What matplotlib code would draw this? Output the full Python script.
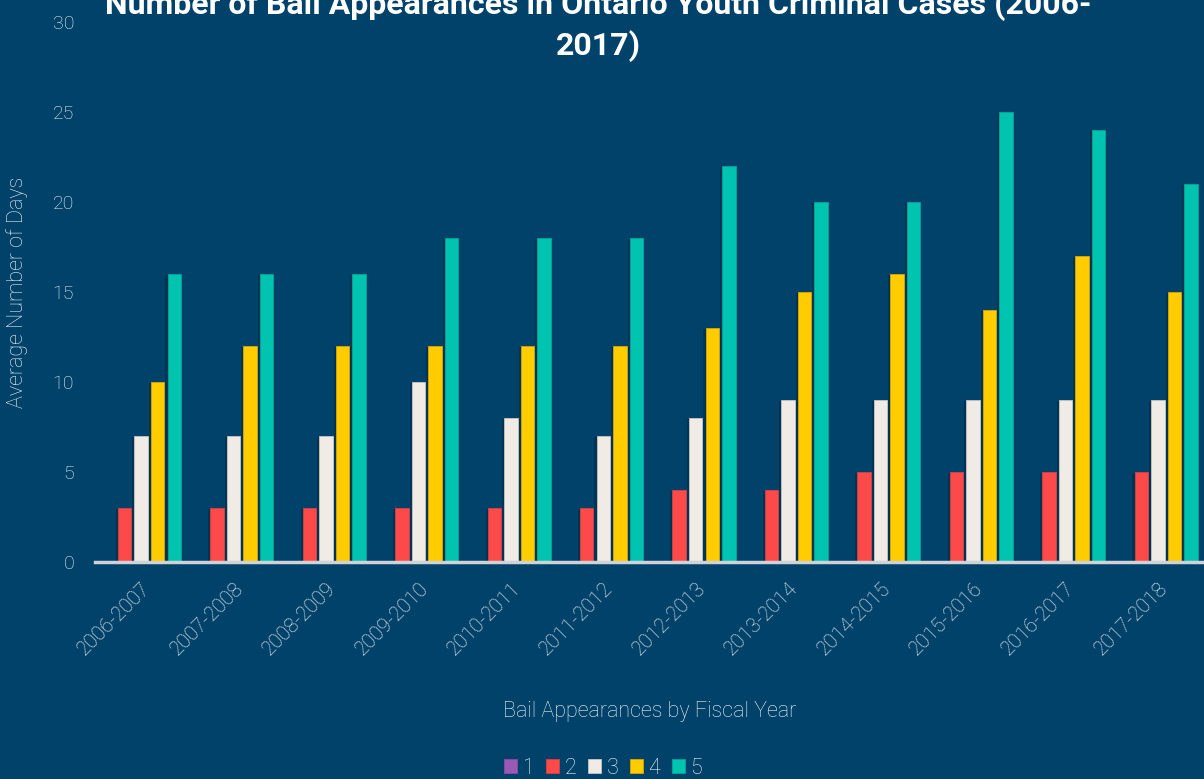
import numpy as np
import matplotlib
matplotlib.use("Agg")
import matplotlib.pyplot as plt
import matplotlib.patheffects as pe

years = ["2006-2007", "2007-2008", "2008-2009", "2009-2010", "2010-2011", "2011-2012",
         "2012-2013", "2013-2014", "2014-2015", "2015-2016", "2016-2017", "2017-2018"]
series_names = ["1", "2", "3", "4", "5"]
app_1 = [0] * 12
app_2 = [3, 3, 3, 3, 3, 3, 4, 4, 5, 5, 5, 5]
app_3 = [7, 7, 7, 10, 8, 7, 8, 9, 9, 9, 9, 9]
app_4 = [10, 12, 12, 12, 12, 12, 13, 15, 16, 14, 17, 15]
app_5 = [16, 16, 16, 18, 18, 18, 22, 20, 20, 25, 24, 21]
colors = ["#9b59b6", "#fc4a4a", "#f0ebe5", "#ffcc00", "#00c4b0"]
edges = ["#8a4ba6", "#d94040", "#c9c4bf", "#d9a800", "#00a896"]

bg = "#01426a"
txt = "#f0f4f7"

plt.rcParams["font.family"] = ["Roboto", "DejaVu Sans"]

fig = plt.figure(figsize=(12.04, 7.79), dpi=100, facecolor=bg)
ax = fig.add_axes([95 / 1204, 217 / 779, 1109 / 1204, 540 / 779])
ax.set_facecolor(bg)

x = np.arange(len(years))
step = 0.179
width = 0.146
# soft shadow beside each bar
shadow = [pe.SimplePatchShadow(offset=(-1.5, -0.5), shadow_rgbFace="#001a30", alpha=0.35), pe.Normal()]
for i, (vals, c) in enumerate(zip([app_1, app_2, app_3, app_4, app_5], colors)):
    bars = ax.bar(x + (i - 2) * step, vals, width, color=c, label=series_names[i],
                  edgecolor=edges[i], linewidth=0.6, zorder=3)
    for b in bars:
        b.set_path_effects(shadow)

ax.set_xlim(-0.5, len(years) - 0.5)
ax.set_ylim(0, 30)
ax.set_yticks(range(0, 31, 5))
ax.set_xticks(x)
ax.set_xticklabels(years, rotation=45, ha="right", rotation_mode="anchor")

for s in ["top", "right", "left"]:
    ax.spines[s].set_visible(False)
ax.spines["bottom"].set_color("#cfd3d6")
ax.spines["bottom"].set_linewidth(2.5)
ax.spines["bottom"].set_zorder(4)

ax.tick_params(axis="y", length=0, pad=15, labelsize=14, labelcolor=txt)
ax.tick_params(axis="x", length=0, pad=12, labelsize=14.5, labelcolor=txt)
for lab in ax.get_xticklabels() + ax.get_yticklabels():
    lab.set_fontweight("light")

ax.set_ylabel("Average Number of Days", color=txt, fontsize=15.5, fontweight="light", labelpad=18)
ax.set_xlabel("Bail Appearances by Fiscal Year", color=txt, fontsize=15.5, fontweight="light", labelpad=30)

fig.text(0.497, 1 - 14 / 779, "Number of Bail Appearances in Ontario Youth Criminal Cases (2006-",
         ha="center", va="baseline", color="white", fontsize=23, fontweight="bold")
fig.text(0.497, 1 - 55 / 779, "2017)",
         ha="center", va="baseline", color="white", fontsize=23, fontweight="bold")

leg = fig.legend(loc="center", bbox_to_anchor=(0.501, 1 - 768 / 779), ncol=5, frameon=False,
                 handlelength=0.6, handleheight=0.6, handletextpad=0.25, columnspacing=0.55,
                 fontsize=15.5, borderpad=0.2)
for t in leg.get_texts():
    t.set_color(txt)
    t.set_fontweight("light")
for h in leg.legend_handles:
    h.set_path_effects([])

fig.savefig("out.png", dpi=100, facecolor=bg)
